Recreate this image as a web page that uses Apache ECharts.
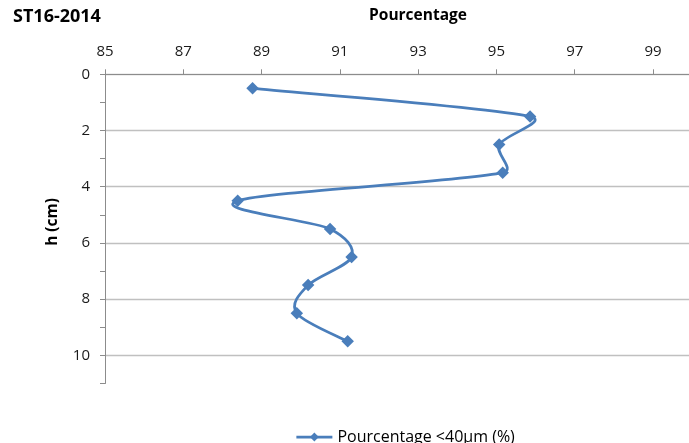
<!DOCTYPE html>
<html>
<head>
<meta charset="utf-8">
<script src="https://cdn.jsdelivr.net/npm/echarts@6/dist/echarts.min.js"></script>
<style>
  html, body { margin: 0; padding: 0; background: #fff; }
  #chart { width: 689px; height: 443px; }
</style>
</head>
<body>
<div id="chart"></div>
<script>
// Depth of each sampled layer (cm) and the fine fraction measured there (%)
const depths = [0.5, 1.5, 2.5, 3.5, 4.5, 5.5, 6.5, 7.5, 8.5, 9.5];
const percentFine = [88.77, 95.86, 95.07, 95.16, 88.39, 90.75, 91.30, 90.19, 89.90, 91.20];
const seriesName = 'Pourcentage <40µm (%)';
const chartTitle = 'ST16-2014';
const xAxisName = 'Pourcentage';
const yAxisName = 'h (cm)';

const FONT = '"Open Sans", "Noto Sans", sans-serif';
const LINE_BLUE = '#4a7ebb';
const LINE_WIDTH = 2.75;

const points = depths.map((d, i) => [percentFine[i], d]);

// Handle vector of a Bezier segment: one sixth of the neighbour chord,
// shortened so it never exceeds half of the segment it belongs to.
function handle(prev, next, segLen) {
  let hx = (next[0] - prev[0]) / 6;
  let hy = (next[1] - prev[1]) / 6;
  const len = Math.hypot(hx, hy);
  const cap = segLen * 0.5;
  if (len > cap && len > 0) {
    hx *= cap / len;
    hy *= cap / len;
  }
  return [hx, hy];
}

// Curve segment i -> i+1 drawn as a cubic Bezier in pixel space.
function renderSegment(params, api) {
  const i = params.dataIndex;
  const n = points.length;
  if (i >= n - 1) return null;
  const px = j => api.coord(points[Math.max(0, Math.min(n - 1, j))]);
  const p0 = px(i - 1), p1 = px(i), p2 = px(i + 1), p3 = px(i + 2);
  const seg = Math.hypot(p2[0] - p1[0], p2[1] - p1[1]);
  const h1 = handle(p0, p2, seg);
  const h2 = handle(p1, p3, seg);
  return {
    type: 'bezierCurve',
    shape: {
      x1: p1[0], y1: p1[1],
      x2: p2[0], y2: p2[1],
      cpx1: p1[0] + h1[0], cpy1: p1[1] + h1[1],
      cpx2: p2[0] - h2[0], cpy2: p2[1] - h2[1]
    },
    style: { stroke: LINE_BLUE, lineWidth: LINE_WIDTH, fill: null, lineCap: 'round', lineJoin: 'round' },
    silent: true
  };
}

const chart = echarts.init(document.getElementById('chart'), null, { renderer: 'canvas' });
chart.setOption({
  animation: false,
  backgroundColor: '#ffffff',
  title: {
    text: chartTitle,
    left: 8,
    top: 3,
    textStyle: { fontFamily: FONT, fontSize: 18, fontWeight: 'bold', color: '#000' }
  },
  legend: {
    left: 290,
    top: 424,
    itemWidth: 36,
    itemHeight: 11,
    itemGap: 4,
    textStyle: { fontFamily: FONT, fontSize: 16, color: '#000' },
    lineStyle: { color: LINE_BLUE, width: LINE_WIDTH, opacity: 1 },
    itemStyle: { color: LINE_BLUE, opacity: 1 },
    data: [seriesName]
  },
  grid: { left: 105, top: 74.3, right: 0, bottom: 59.5, containLabel: false },
  xAxis: {
    type: 'value',
    position: 'top',
    min: 85,
    max: 99.92,
    interval: 2,
    name: xAxisName,
    nameLocation: 'middle',
    nameGap: 51,
    nameTextStyle: { fontFamily: FONT, fontSize: 15.5, fontWeight: 'bold', color: '#000', padding: [0, 0, 0, 42] },
    axisLine: { show: true, lineStyle: { color: '#8c8c8c', width: 1 } },
    axisTick: { show: true, inside: false, length: 5, lineStyle: { color: '#8c8c8c' } },
    axisLabel: { margin: 15, fontFamily: FONT, fontSize: 15, color: '#1a1a1a', showMaxLabel: false },
    splitLine: { show: false }
  },
  yAxis: {
    type: 'value',
    inverse: true,
    min: 0,
    max: 11,
    interval: 1,
    name: yAxisName,
    nameLocation: 'middle',
    nameGap: 44,
    nameRotate: 90,
    nameTextStyle: { fontFamily: FONT, fontSize: 15.5, fontWeight: 'bold', color: '#000', padding: [0, 0, 0, 14] },
    axisLine: { show: true, lineStyle: { color: '#8c8c8c', width: 1 } },
    axisTick: { show: true, inside: false, length: 5, lineStyle: { color: '#8c8c8c' } },
    axisLabel: {
      margin: 15,
      fontFamily: FONT,
      fontSize: 15,
      color: '#1a1a1a',
      formatter: v => (v % 2 === 0 ? String(v) : '')
    },
    // gridlines only on the labelled (even) depths
    splitLine: {
      show: true,
      lineStyle: { color: ['#c0c0c0', 'rgba(0,0,0,0)'], width: 1.3 }
    }
  },
  series: [
    {
      name: 'courbe',
      type: 'custom',
      data: points,
      encode: { x: 0, y: 1 },
      renderItem: renderSegment,
      z: 2
    },
    {
      name: seriesName,
      type: 'line',
      data: points,
      symbol: 'diamond',
      symbolSize: 12.5,
      lineStyle: { color: LINE_BLUE, width: LINE_WIDTH, opacity: 0 },
      itemStyle: { color: LINE_BLUE },
      z: 3
    }
  ]
});
</script>
</body>
</html>
